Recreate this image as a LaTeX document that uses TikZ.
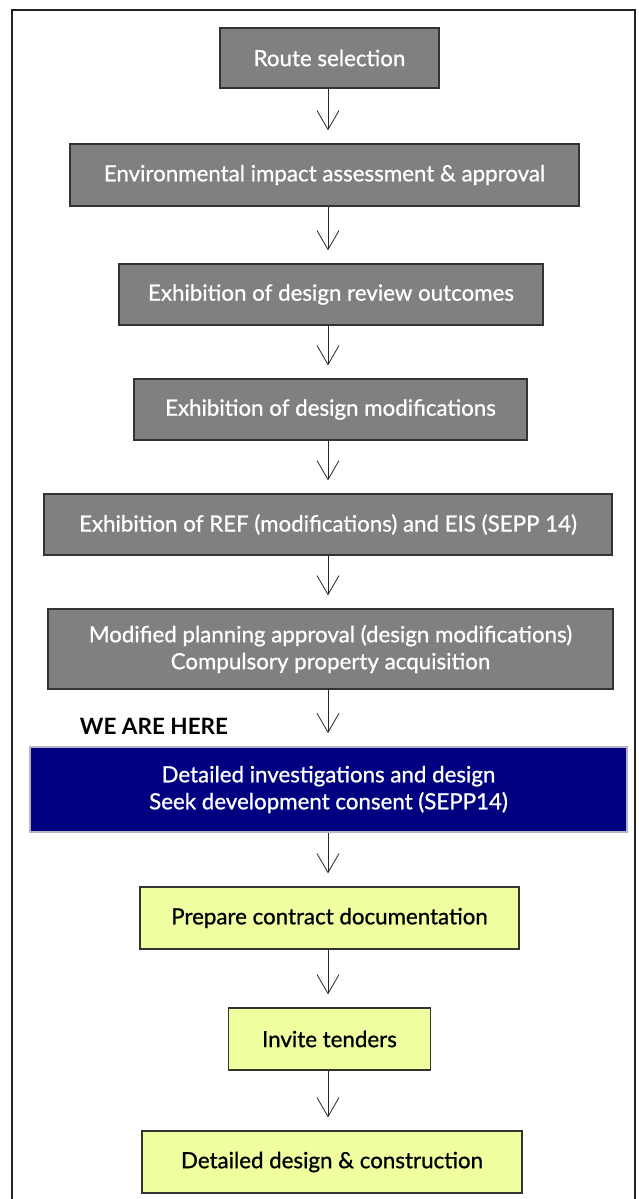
\documentclass[tikz,border=0pt]{standalone}
\usepackage{fontspec}
\setmainfont{Lato}
\newfontfamily\boxfont{Lato}[FakeBold=0.9]
\usetikzlibrary{arrows.meta}
\definecolor{boxgrey}{HTML}{808080}
\definecolor{boxnavy}{HTML}{000080}
\definecolor{boxgreen}{HTML}{EEFFA0}
\definecolor{navyedge}{HTML}{B4B4C4}
\definecolor{frameedge}{HTML}{222222}
\tikzset{
  base/.style={rectangle, inner sep=0pt, align=center, font=\boxfont\fontsize{22.3}{27}\selectfont},
  greybox/.style={base, fill=boxgrey, draw=black!80, line width=1.3pt, text=white},
  navybox/.style={base, fill=boxnavy, draw=navyedge, line width=1.8pt, text=white},
  greenbox/.style={base, fill=boxgreen, draw=black!80, line width=1.3pt, text=black},
  arr/.style={draw=black!85, line width=0.8pt, -{Straight Barb[length=19pt,width=22pt,line width=0.8pt]}},
}
\begin{document}
\begin{tikzpicture}[x=1pt,y=-1pt]
\useasboundingbox (0,0) rectangle (638,1199);
\draw[frameedge, line width=1.8pt] (12,1215) -- (12,10) -- (635,10) -- (635,1215);
\node[greybox, minimum width=219pt, minimum height=60pt] (b1) at (329.5,58) {Route selection};
\node[greybox, minimum width=509pt, minimum height=62pt] (b2) at (324.5,175) {Environmental impact assessment \& approval};
\node[greybox, minimum width=424pt, minimum height=61pt] (b3) at (331,294.5) {Exhibition of design review outcomes};
\node[greybox, minimum width=393pt, minimum height=61pt] (b4) at (330.5,409.5) {Exhibition of design modifications};
\node[greybox, minimum width=568pt, minimum height=61pt] (b5) at (328,524.5) {Exhibition of REF (modifications) and EIS (SEPP 14)};
\node[greybox, minimum width=565pt, minimum height=80pt] (b6) at (330.5,649) {Modified planning approval (design modifications)\\Compulsory property acquisition};
\node[font=\fontsize{22.5}{24}\selectfont\bfseries, inner sep=0pt] (here) at (154,726) {WE ARE HERE};
\node[navybox, minimum width=597pt, minimum height=85pt] (b7) at (328.5,789.5) {Detailed investigations and design\\Seek development consent (SEPP14)};
\node[greenbox, minimum width=379pt, minimum height=62pt] (b8) at (329.5,918) {Prepare contract documentation};
\node[greenbox, minimum width=202pt, minimum height=62pt] (b9) at (329.5,1039) {Invite tenders};
\node[greenbox, minimum width=380pt, minimum height=62pt] (b10) at (332,1162) {Detailed design \& construction};
\foreach \n in {b2,b3,b4,b5,b6,b7,b8,b9,b10} {
  \coordinate (t\n) at ([yshift=13pt]\n.north);
}
\coordinate (ax) at (328,0);
\draw[arr] (b1.south -| ax) -- (tb2 -| ax);
\draw[arr] (b2.south -| ax) -- (tb3 -| ax);
\draw[arr] (b3.south -| ax) -- (tb4 -| ax);
\draw[arr] (b4.south -| ax) -- (tb5 -| ax);
\draw[arr] (b5.south -| ax) -- (tb6 -| ax);
\draw[arr] (b6.south -| ax) -- (tb7 -| ax);
\draw[arr] (b7.south -| ax) -- (tb8 -| ax);
\draw[arr] (b8.south -| ax) -- (tb9 -| ax);
\draw[arr] (b9.south -| ax) -- (tb10 -| ax);
\end{tikzpicture}
\end{document}
